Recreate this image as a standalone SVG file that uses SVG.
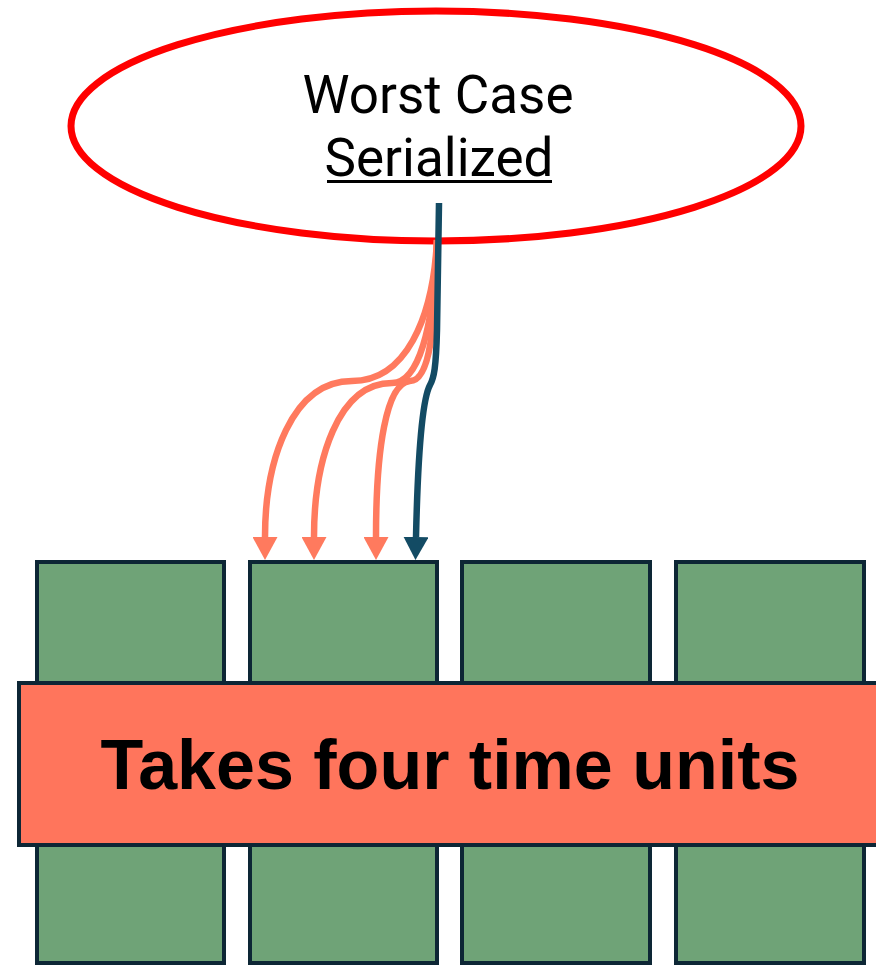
<svg xmlns="http://www.w3.org/2000/svg" width="876" height="966" viewBox="0 0 876 966">
  <style>
    .cell { fill: #6FA377; stroke: #0D2635; stroke-width: 4; }
    .band { fill: #FF755C; stroke: #0D2635; stroke-width: 4; }
    .title { font-family: "Roboto", "Liberation Sans", Arial, sans-serif; font-size: 53px; fill: #000; text-anchor: middle; }
    .label { font-family: "Liberation Sans", Arial, sans-serif; font-size: 70px; font-weight: bold; fill: #000; text-anchor: middle; }
    .warm { fill: none; stroke: #FF7A5E; stroke-width: 6.5; marker-end: url(#headWarm); }
    .cold { fill: none; stroke: #134B64; stroke-width: 6.5; marker-end: url(#headCold); }
  </style>
  <defs>
    <marker id="headWarm" viewBox="0 0 23 25" refX="0" refY="12.5" markerWidth="23" markerHeight="25" markerUnits="userSpaceOnUse" orient="auto">
      <path d="M0,0 L23,12.5 L0,25 Z" fill="#FF7A5E"/>
    </marker>
    <marker id="headCold" viewBox="0 0 23 25" refX="0" refY="12.5" markerWidth="23" markerHeight="25" markerUnits="userSpaceOnUse" orient="auto">
      <path d="M0,0 L23,12.5 L0,25 Z" fill="#134B64"/>
    </marker>
  </defs>

  <rect width="876" height="966" fill="#FFFFFF"/>

  <!-- four time-unit columns -->
  <g id="cell-1"><rect class="cell" x="37" y="562" width="187" height="401"/></g>
  <g id="cell-2"><rect class="cell" x="250" y="562" width="187" height="401"/></g>
  <g id="cell-3"><rect class="cell" x="462" y="562" width="188" height="401"/></g>
  <g id="cell-4"><rect class="cell" x="676" y="562" width="188" height="401"/></g>

  <!-- horizontal band across all columns -->
  <g id="band">
    <rect class="band" x="19" y="683" width="870" height="162"/>
    <text class="label" x="450" y="789">Takes four time units</text>
  </g>

  <!-- worst case bubble -->
  <g id="worst-case">
    <ellipse cx="436" cy="126" rx="365" ry="115" fill="#FFFFFF" stroke="#FF0000" stroke-width="7"/>
    <text class="title" x="438" y="113">Worst Case</text>
    <text class="title" x="439" y="176">Serialized</text>
    <rect x="327" y="180" width="225" height="3" fill="#000"/>
  </g>

  <!-- connectors fanning into the second column -->
  <g id="connectors">
    <path class="warm" d="M437,240 C433,320 405,381 352,381 C292,381 265,460 265,537"/>
    <path class="warm" d="M437,240 C434,330 418,383 392,383 C338,383 314,460 314,537"/>
    <path class="warm" d="M437,240 C435,330 430,381 410,381 C386,383 376,450 376,537"/>
    <path class="cold" d="M439,203 L437,330 C436,368 434,378 430,385 C423,398 418,450 416,537"/>
  </g>
</svg>
